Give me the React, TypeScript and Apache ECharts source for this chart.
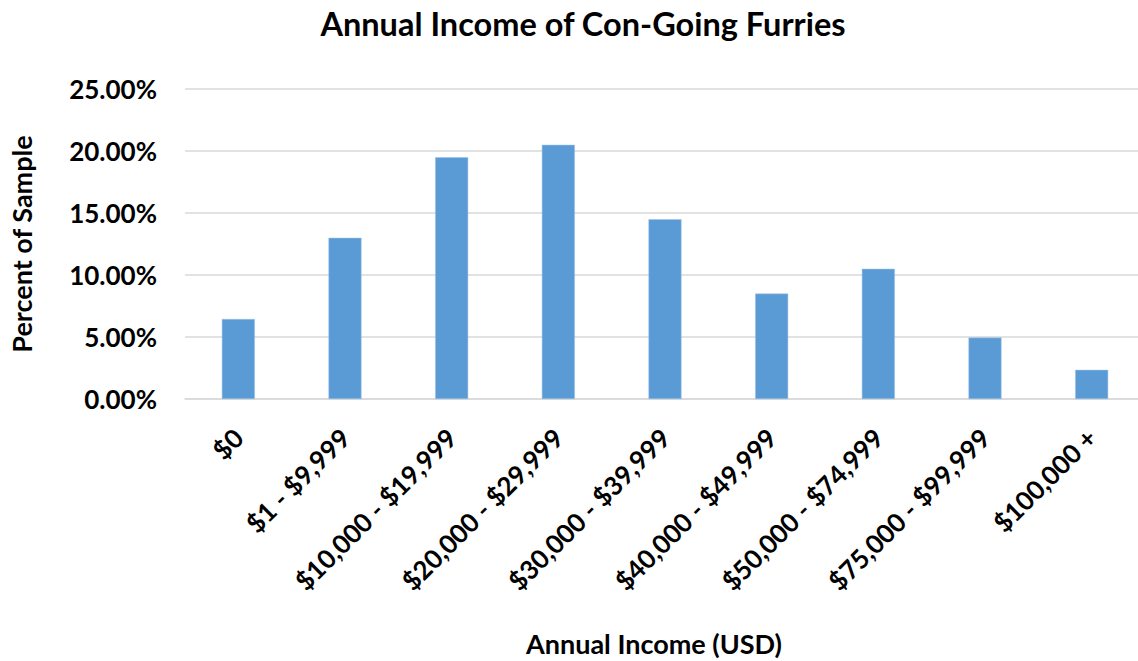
import React, { useEffect, useRef } from "react";
import * as echarts from "echarts";

const categories = [
  "$0",
  "$1 - $9,999",
  "$10,000 - $19,999",
  "$20,000 - $29,999",
  "$30,000 - $39,999",
  "$40,000 - $49,999",
  "$50,000 - $74,999",
  "$75,000 - $99,999",
  "$100,000 +",
];
const percentValues = [6.45, 13.0, 19.5, 20.5, 14.5, 8.5, 10.5, 4.95, 2.35];
const chartTitle = "Annual Income of Con-Going Furries";
const xAxisTitle = "Annual Income (USD)";
const yAxisTitle = "Percent of Sample";

const FONT = "Lato";

export default function App() {
  const ref = useRef<HTMLDivElement>(null);
  useEffect(() => {
    if (!ref.current) return;
    const chart = echarts.init(ref.current, null, { renderer: "svg" });
    chart.setOption({
      animation: false,
      backgroundColor: "#ffffff",
      title: {
        text: chartTitle,
        left: 578,
        textAlign: "center",
        top: 2,
        textStyle: { fontFamily: FONT, fontWeight: "bold", fontSize: 32.5, color: "#000" },
      },
      grid: {
        left: 185,
        top: 89,
        width: 960,
        height: 310,
        containLabel: false,
        outerBoundsMode: "none",
      },
      xAxis: {
        type: "category",
        data: categories,
        name: xAxisTitle,
        nameLocation: "middle",
        nameGap: 231,
        nameTextStyle: { fontFamily: FONT, fontWeight: "bold", fontSize: 27, color: "#000", padding: [0, 22, 0, 0] },
        axisLine: { show: true, lineStyle: { color: "#D9D9D9", width: 1.5 } },
        axisTick: { show: false },
        axisLabel: {
          interval: 0,
          rotate: 45,
          margin: 34,
          fontFamily: FONT,
          fontWeight: "bold",
          fontSize: 26,
          color: "#000",
        },
      },
      yAxis: {
        type: "value",
        min: 0,
        max: 25,
        interval: 5,
        name: yAxisTitle,
        nameLocation: "middle",
        nameRotate: 90,
        nameGap: 150,
        nameTextStyle: { fontFamily: FONT, fontWeight: "bold", fontSize: 27, color: "#000" },
        axisLine: { show: false },
        axisTick: { show: false },
        splitLine: { show: true, lineStyle: { color: "#D9D9D9", width: 1.5 } },
        axisLabel: {
          margin: 28,
          fontFamily: FONT,
          fontWeight: "bold",
          fontSize: 26,
          color: "#000",
          formatter: (v: number) => v.toFixed(2) + "%",
        },
      },
      series: [
        {
          type: "bar",
          data: percentValues,
          barWidth: 33,
          itemStyle: { color: "#5B9BD5", borderColor: "#9DC3E6", borderWidth: 0.5 },
        },
      ],
    });
    return () => chart.dispose();
  }, []);
  return (
    <div
      ref={ref}
      style={{ position: "absolute", left: 0, top: 0, width: 1138, height: 661, background: "#fff" }}
    />
  );
}
